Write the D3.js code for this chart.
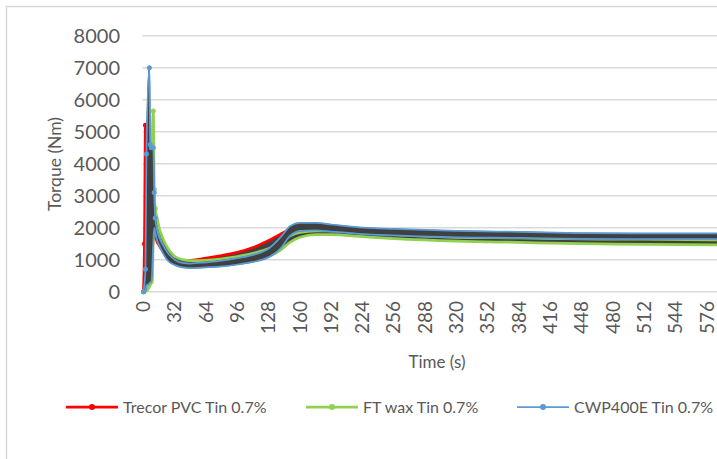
<!DOCTYPE html>
<html>
<head>
<meta charset="utf-8">
<script src="https://cdn.jsdelivr.net/npm/d3@7"></script>
<style>
  body { margin: 0; background: #fff; }
  svg { display: block; font-family: Lato, "Open Sans", sans-serif; }
</style>
</head>
<body>
<svg width="717" height="459"></svg>
<script>
// knot times (s) and envelope values (upper / lower)
const redT  = [0, 1, 2, 3, 4, 6, 8, 10, 12, 14, 16, 20, 24, 32, 40, 48, 64, 80, 96, 112, 128, 140, 150, 160, 176, 192, 224, 256, 320, 384, 448, 512, 586];
const redHi = [0, 1500, 5200, 4300, 4500, 4300, 4000, 3000, 2100, 1800, 1650, 1450, 1250, 1050, 970, 980, 1050, 1130, 1230, 1380, 1600, 1800, 1950, 2000, 2000, 1980, 1900, 1870, 1820, 1800, 1770, 1760, 1760];
const redLo = [0, 200, 300, 300, 300, 300, 400, 1700, 1700, 1550, 1450, 1250, 1100, 950, 870, 850, 870, 930, 1000, 1100, 1250, 1450, 1700, 1800, 1850, 1830, 1780, 1740, 1700, 1680, 1650, 1640, 1640];

const greenT  = [0, 2, 4, 6, 8, 9, 10, 11, 12, 14, 16, 20, 24, 32, 40, 48, 64, 80, 96, 112, 128, 140, 150, 160, 176, 192, 224, 256, 320, 384, 448, 512, 586];
const greenHi = [0, 100, 200, 300, 4500, 5000, 5650, 3200, 2600, 2300, 2000, 1650, 1400, 1100, 1000, 970, 980, 1030, 1100, 1200, 1350, 1550, 1750, 1850, 1900, 1900, 1850, 1780, 1700, 1680, 1650, 1640, 1620];
const greenLo = [0, 0, 50, 150, 270, 300, 1800, 2100, 2100, 1900, 1700, 1400, 1200, 950, 850, 830, 830, 860, 900, 1000, 1100, 1300, 1550, 1700, 1780, 1780, 1720, 1660, 1580, 1540, 1500, 1480, 1460];

const blueT  = [0, 2, 3, 6, 7, 8, 10, 11, 12, 14, 16, 20, 24, 32, 40, 48, 64, 80, 96, 112, 128, 140, 150, 160, 176, 192, 224, 256, 320, 384, 448, 512, 586];
const blueHi = [0, 700, 4300, 7000, 4600, 4500, 4500, 3100, 2300, 1900, 1700, 1450, 1250, 1000, 900, 880, 920, 970, 1050, 1150, 1350, 1700, 2050, 2150, 2150, 2100, 2000, 1960, 1900, 1870, 1830, 1820, 1820];
const blueLo = [0, 0, 200, 250, 300, 300, 1500, 2000, 1850, 1600, 1450, 1200, 1000, 830, 760, 740, 760, 790, 850, 930, 1080, 1350, 1750, 1900, 1920, 1880, 1800, 1760, 1700, 1680, 1650, 1640, 1640];

const seriesNames = ["Trecor PVC Tin 0.7%", "FT wax Tin 0.7%", "CWP400E Tin 0.7%"];
const yTicks = [0, 1000, 2000, 3000, 4000, 5000, 6000, 7000, 8000];
const xTicks = d3.range(0, 577, 32);

const series = [
  {name: seriesNames[0], t: redT, hi: redHi, lo: redLo, color: "#ff0000", w: 2.75},
  {name: seriesNames[1], t: greenT, hi: greenHi, lo: greenLo, color: "#92d050", w: 2.75},
  {name: seriesNames[2], t: blueT, hi: blueHi, lo: blueLo, color: "#5b9bd5", w: 1.75}
];

const svg = d3.select("svg");

// chart outline
svg.append("rect")
  .attr("x", 6.5).attr("y", 6.5)
  .attr("width", 800).attr("height", 500)
  .attr("fill", "none").attr("stroke", "#d9d9d9").attr("stroke-width", 1.5);

const x = d3.scaleLinear().domain([0, 580]).range([143.5, 711]);
const y = d3.scaleLinear().domain([0, 8000]).range([291.7, 35.7]);

// gridlines
svg.append("g").selectAll("line")
  .data(yTicks)
  .enter()
  .append("line")
  .attr("x1", 142.5).attr("x2", 717)
  .attr("y1", d => y(d)).attr("y2", d => y(d))
  .attr("stroke", "#d9d9d9").attr("stroke-width", 1.5);

// y labels
svg.append("g").selectAll("text")
  .data(yTicks)
  .enter()
  .append("text")
  .attr("x", 120)
  .attr("y", d => y(d))
  .attr("dy", "0.36em")
  .attr("text-anchor", "end")
  .attr("font-size", 20)
  .attr("fill", "#595959")
  .text(d => d);

// x labels (rotated)
svg.append("g").selectAll("text")
  .data(xTicks)
  .enter()
  .append("text")
  .attr("transform", d => "translate(" + x(d) + ",301) rotate(-90)")
  .attr("dy", "0.34em")
  .attr("text-anchor", "end")
  .attr("font-size", 19)
  .attr("fill", "#595959")
  .text(d => d);

// axis titles
svg.append("text")
  .attr("transform", "translate(55,164) rotate(-90)")
  .attr("dy", "0.35em")
  .attr("text-anchor", "middle")
  .attr("font-size", 17.5)
  .attr("fill", "#595959")
  .text("Torque (Nm)");

svg.append("text")
  .attr("x", 437).attr("y", 362)
  .attr("dy", "0.35em")
  .attr("text-anchor", "middle")
  .attr("font-size", 17)
  .attr("fill", "#595959")
  .text("Time (s)");

// data bands, drawn in series order so later series sit on top
const plot = svg.append("g");
series.forEach(s => {
  const pts = s.t.map((t, i) => ({t: t, hi: s.hi[i], lo: s.lo[i]}));
  const area = d3.area()
    .x(d => x(d.t)).y0(d => y(d.lo)).y1(d => y(d.hi))
    .curve(d3.curveMonotoneX);
  const lineHi = d3.line().x(d => x(d.t)).y(d => y(d.hi)).curve(d3.curveMonotoneX);
  const lineLo = d3.line().x(d => x(d.t)).y(d => y(d.lo)).curve(d3.curveMonotoneX);

  const g = plot.append("g");
  g.append("path").attr("d", area(pts)).attr("fill", "#404040")
    .attr("stroke", "#404040").attr("stroke-width", 1);
  g.append("path").attr("d", lineHi(pts)).attr("fill", "none")
    .attr("stroke", s.color).attr("stroke-width", s.w);
  g.append("path").attr("d", lineLo(pts)).attr("fill", "none")
    .attr("stroke", s.color).attr("stroke-width", s.w);
  g.selectAll("circle")
    .data(pts.filter(d => d.t <= 12))
    .enter()
    .append("circle")
    .attr("cx", d => x(d.t)).attr("cy", d => y(d.hi)).attr("r", 2.5)
    .attr("fill", s.color);
});

// legend
const legX = [66, 306, 517];
const leg = svg.append("g").selectAll("g")
  .data(series)
  .enter()
  .append("g")
  .attr("transform", (d, i) => "translate(" + legX[i] + ",407)");
leg.append("line")
  .attr("x1", 0).attr("x2", 52)
  .attr("stroke", d => d.color).attr("stroke-width", d => d.w);
leg.append("circle")
  .attr("cx", 26).attr("r", 3)
  .attr("fill", d => d.color);
leg.append("text")
  .attr("x", 57)
  .attr("dy", "0.35em")
  .attr("font-size", 16)
  .attr("fill", "#595959")
  .text(d => d.name);
</script>
</body>
</html>
